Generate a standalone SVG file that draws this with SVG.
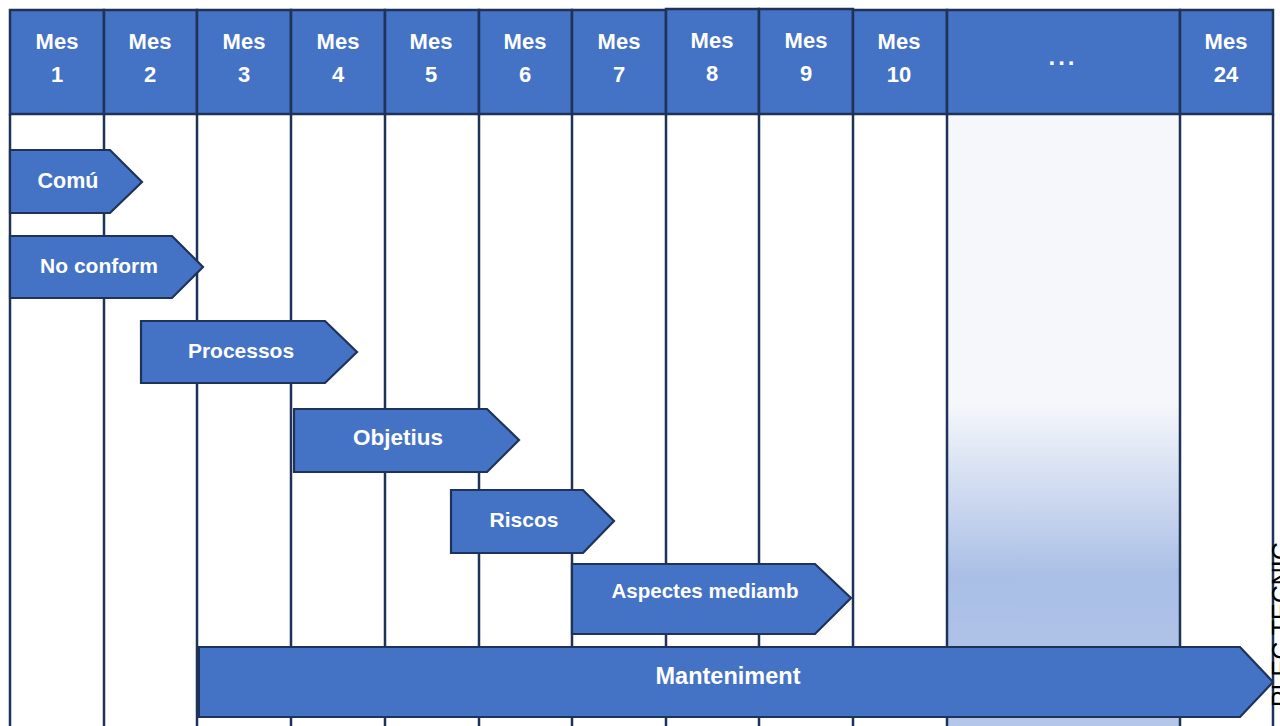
<svg xmlns="http://www.w3.org/2000/svg" width="1280" height="726" viewBox="0 0 1280 726">
<defs>
<linearGradient id="fade" x1="0" y1="0" x2="0" y2="1">
<stop offset="0" stop-color="#F5F7FB"/>
<stop offset="0.47" stop-color="#F5F7FB"/>
<stop offset="0.75" stop-color="#AABFE6"/>
<stop offset="1" stop-color="#B4C7EA"/>
</linearGradient>
<style>
.hdr{fill:#4472C4;stroke:#1F3258;stroke-width:2.5}
.grid{stroke:#1F3258;stroke-width:2.5;fill:none}
.bar{fill:#4472C4;stroke:#1F3258;stroke-width:2.2;stroke-linejoin:miter}
.ht{font-family:"Liberation Sans",Arial,sans-serif;font-weight:bold;font-size:22px;fill:#FFFFFF;text-anchor:middle}
.bt{font-family:"Liberation Sans",Arial,sans-serif;font-weight:bold;font-size:21px;fill:#FFFFFF;text-anchor:middle}
.side{font-family:"Liberation Sans",Arial,sans-serif;font-size:25px;fill:#000000}
</style>
</defs>
<rect width="1280" height="726" fill="#FFFFFF"/>
<rect x="948" y="115" width="232" height="615" fill="url(#fade)"/>
<g id="grid" class="grid">
<line x1="10" y1="114" x2="10" y2="730"/>
<line x1="104" y1="114" x2="104" y2="730"/>
<line x1="197" y1="114" x2="197" y2="730"/>
<line x1="291" y1="114" x2="291" y2="730"/>
<line x1="385" y1="114" x2="385" y2="730"/>
<line x1="479" y1="114" x2="479" y2="730"/>
<line x1="572" y1="114" x2="572" y2="730"/>
<line x1="666" y1="114" x2="666" y2="730"/>
<line x1="759" y1="114" x2="759" y2="730"/>
<line x1="853" y1="114" x2="853" y2="730"/>
<line x1="947" y1="114" x2="947" y2="730"/>
<line x1="1180" y1="114" x2="1180" y2="730"/>
<line x1="1273" y1="114" x2="1273" y2="730"/>
</g>
<text class="side" transform="translate(1290,707) rotate(-90)">PLEC TECNIC</text>
<g id="header">
<g id="m1"><rect class="hdr" x="10" y="10" width="94" height="104"/><text class="ht" x="57" y="49">Mes</text><text class="ht" x="57" y="82">1</text></g>
<g id="m2"><rect class="hdr" x="104" y="10" width="93" height="104"/><text class="ht" x="150" y="49">Mes</text><text class="ht" x="150" y="82">2</text></g>
<g id="m3"><rect class="hdr" x="197" y="10" width="94" height="104"/><text class="ht" x="244" y="49">Mes</text><text class="ht" x="244" y="82">3</text></g>
<g id="m4"><rect class="hdr" x="291" y="10" width="94" height="104"/><text class="ht" x="338" y="49">Mes</text><text class="ht" x="338" y="82">4</text></g>
<g id="m5"><rect class="hdr" x="385" y="10" width="94" height="104"/><text class="ht" x="431" y="49">Mes</text><text class="ht" x="431" y="82">5</text></g>
<g id="m6"><rect class="hdr" x="479" y="10" width="93" height="104"/><text class="ht" x="525" y="49">Mes</text><text class="ht" x="525" y="82">6</text></g>
<g id="m7"><rect class="hdr" x="572" y="10" width="94" height="104"/><text class="ht" x="619" y="49">Mes</text><text class="ht" x="619" y="82">7</text></g>
<g id="m8"><rect class="hdr" x="666" y="9" width="93" height="105"/><text class="ht" x="712" y="48">Mes</text><text class="ht" x="712" y="81">8</text></g>
<g id="m9"><rect class="hdr" x="759" y="9" width="94" height="105"/><text class="ht" x="806" y="48">Mes</text><text class="ht" x="806" y="81">9</text></g>
<g id="m10"><rect class="hdr" x="853" y="10" width="94" height="104"/><text class="ht" x="899" y="49">Mes</text><text class="ht" x="899" y="82">10</text></g>
<g id="mdots"><rect class="hdr" x="947" y="10" width="233" height="104"/><text class="ht" x="1063" y="65" style="font-size:24px;letter-spacing:3px">...</text></g>
<g id="m24"><rect class="hdr" x="1180" y="10" width="93" height="104"/><text class="ht" x="1226" y="49">Mes</text><text class="ht" x="1226" y="82">24</text></g>
</g>
<g id="comu"><polygon class="bar" points="10,150 110,150 142,182 110,213 10,213"/><text class="bt" x="68" y="188" style="font-size:21.5px">Comú</text></g>
<g id="noconform"><polygon class="bar" points="10,236 172,236 203,267 172,298 10,298"/><text class="bt" x="99" y="273">No conform</text></g>
<g id="processos"><polygon class="bar" points="141,321 325,321 357,352 325,383 141,383"/><text class="bt" x="241" y="358">Processos</text></g>
<g id="objetius"><polygon class="bar" points="294,409 487,409 519,440 487,472 294,472"/><text class="bt" x="398" y="445" style="font-size:22.5px">Objetius</text></g>
<g id="riscos"><polygon class="bar" points="451,490 583,490 614,521 583,553 451,553"/><text class="bt" x="524" y="527">Riscos</text></g>
<g id="aspectes"><polygon class="bar" points="572,564 815,564 851,598 815,634 572,634"/><text class="bt" x="705" y="598" style="font-size:20.5px">Aspectes mediamb</text></g>
<g id="manteniment"><polygon class="bar" points="198,647 1240,647 1273,682 1240,717 198,717"/><line x1="198" y1="646" x2="198" y2="718" stroke="#1F3258" stroke-width="4"/><text class="bt" x="728" y="684" style="font-size:23.5px">Manteniment</text></g>
</svg>
